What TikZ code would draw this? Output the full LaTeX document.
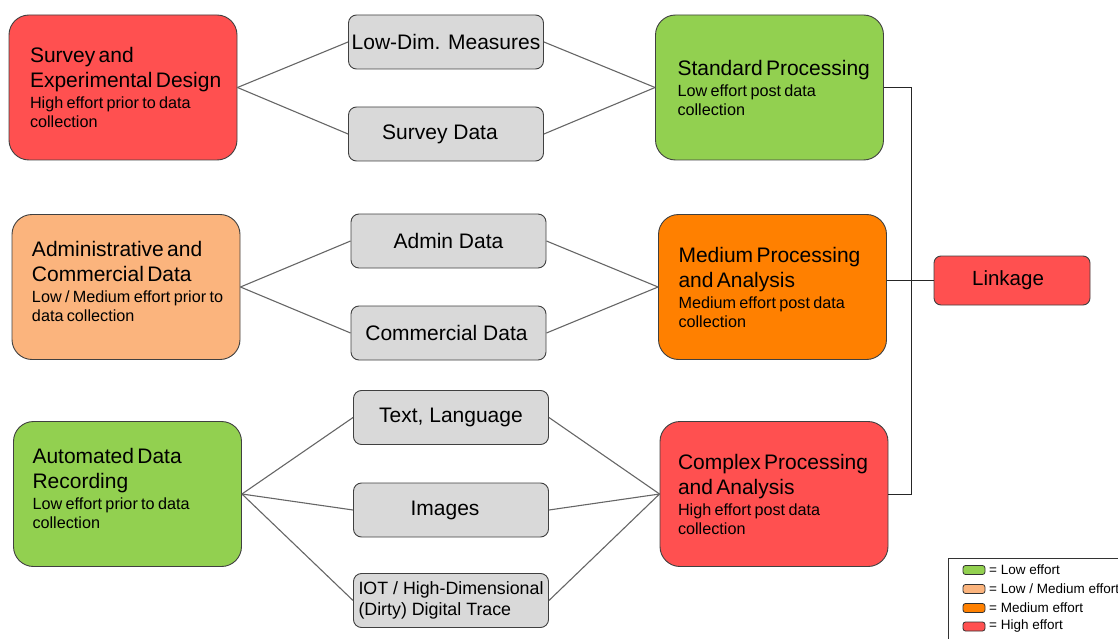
\documentclass[tikz,border=0pt]{standalone}
\usepackage{fontspec}
\setmainfont{Liberation Sans}
\definecolor{cred}{HTML}{FF5050}
\definecolor{cgreen}{HTML}{92D050}
\definecolor{clorange}{HTML}{FBB47D}
\definecolor{corange}{HTML}{FF8000}
\definecolor{cgray}{HTML}{D9D9D9}
\newcommand\bxtitle{\fontsize{21}{25}\selectfont}
\newcommand\bxsub{\fontsize{16.2}{19}\selectfont}
\newcommand\bxgap{\par\vspace{2pt}}
\newcommand\bxlift{\par\kern12pt\hrule height 0pt width 0pt}
\begin{document}
\begin{tikzpicture}[x=1pt,y=-1pt,
  bigbox/.style={draw=black!75, line width=0.9pt, rounded corners=20pt, minimum width=228pt, minimum height=145pt, text width=228pt, inner xsep=0pt, inner ysep=0pt, align=left},
  graybox/.style={draw=black!75, line width=0.9pt, fill=cgray, rounded corners=8pt, minimum width=195pt, minimum height=54pt, inner sep=2pt, align=center, font=\fontsize{21}{24}\selectfont},
  conn/.style={draw=black!60, line width=1.1pt},
  trunk/.style={draw=black!85, line width=1pt},
  swatch/.style={draw=black!80, line width=0.8pt, rounded corners=2.5pt, minimum width=22pt, minimum height=9pt, inner sep=0pt},
  legtext/.style={anchor=west, inner sep=0pt, font=\fontsize{13.5}{16}\selectfont}
]
\useasboundingbox (0,0) rectangle (1118,639);
\clip (0,0) rectangle (1118,639);

% big boxes
\node[bigbox, fill=cred] (sed) at (123,87.5) {\leftskip=21pt{\bxtitle Survey and\\Experimental Design\bxgap}{\bxsub High effort prior to data\\collection\par}};
\node[bigbox, fill=clorange] (adm) at (126,287) {\leftskip=20pt{\bxtitle Administrative and\\Commercial Data\bxgap}{\bxsub Low / Medium effort prior to\\data collection\bxlift}};
\node[bigbox, fill=cgreen] (aut) at (127.5,494) {\leftskip=19pt{\bxtitle Automated Data\\Recording\bxgap}{\bxsub Low effort prior to data\\collection\bxlift}};
\node[bigbox, fill=cgreen] (std) at (769.5,87.5) {\leftskip=22pt{\bxtitle Standard Processing\bxgap}{\bxsub Low effort post data\\collection\par}};
\node[bigbox, fill=corange] (med) at (772.5,287) {\leftskip=20pt{\bxtitle Medium Processing\\and Analysis\bxgap}{\bxsub Medium effort post data\\collection\par}};
\node[bigbox, fill=cred] (cpx) at (774,494) {\leftskip=18pt{\bxtitle Complex Processing\\and Analysis\bxgap}{\bxsub High effort post data\\collection\par}};

% gray boxes
\node[graybox] (low) at (446,42) {Low-Dim. Measures};
\node[graybox] (sdat) at (446,134) {\hspace*{-12pt}Survey Data};
\node[graybox] (adat) at (448.5,241) {Admin Data};
\node[graybox] (cdat) at (448.5,333) {\hspace*{-4pt}Commercial Data};
\node[graybox] (txt) at (451,417.5) {Text, Language};
\node[graybox] (img) at (451,510) {\hspace*{-12pt}Images};
\node[graybox, align=left, font=\fontsize{17.8}{21}\selectfont] (iot) at (451,600.5) {IOT / High-Dimensional\\(Dirty) Digital Trace};

% linkage
\node[draw=black!75, line width=0.9pt, fill=cred, rounded corners=7pt, minimum width=156pt, minimum height=49pt, font=\fontsize{20.5}{24}\selectfont] (lnk) at (1012,280.5) {\hspace*{-8pt}Linkage};

% connectors
\draw[conn] (sed.east) -- (low.west);
\draw[conn] (sed.east) -- (sdat.west);
\draw[conn] (low.east) -- (std.west);
\draw[conn] (sdat.east) -- (std.west);
\draw[conn] (adm.east) -- (adat.west);
\draw[conn] (adm.east) -- (cdat.west);
\draw[conn] (adat.east) -- (med.west);
\draw[conn] (cdat.east) -- (med.west);
\draw[conn] (aut.east) -- (txt.west);
\draw[conn] (aut.east) -- (img.west);
\draw[conn] (aut.east) -- (iot.west);
\draw[conn] (txt.east) -- (cpx.west);
\draw[conn] (img.east) -- (cpx.west);
\draw[conn] (iot.east) -- (cpx.west);

\coordinate (tr) at (911,0);
\draw[trunk] (std.east) -- (std.east -| tr) -- (cpx.east -| tr) -- (cpx.east);
\draw[trunk] (lnk.west -| med.east) -- (lnk.west);

% legend
\draw[draw=black!80, line width=0.9pt] (948,558) rectangle (1140,660);
\node[swatch, fill=cgreen] (s1) at (974,570) {};
\node[swatch, fill=clorange] (s2) at (974,589) {};
\node[swatch, fill=corange] (s3) at (974,608) {};
\node[swatch, fill=cred] (s4) at (974,626.5) {};
\node[legtext] (l1) at (989,570) {= Low effort};
\node[legtext] (l2) at (989,589) {= Low / Medium effort};
\node[legtext] (l3) at (989,608) {= Medium effort};
\node[legtext] (l4) at (989,626.5) {= High effort};
\end{tikzpicture}
\end{document}
